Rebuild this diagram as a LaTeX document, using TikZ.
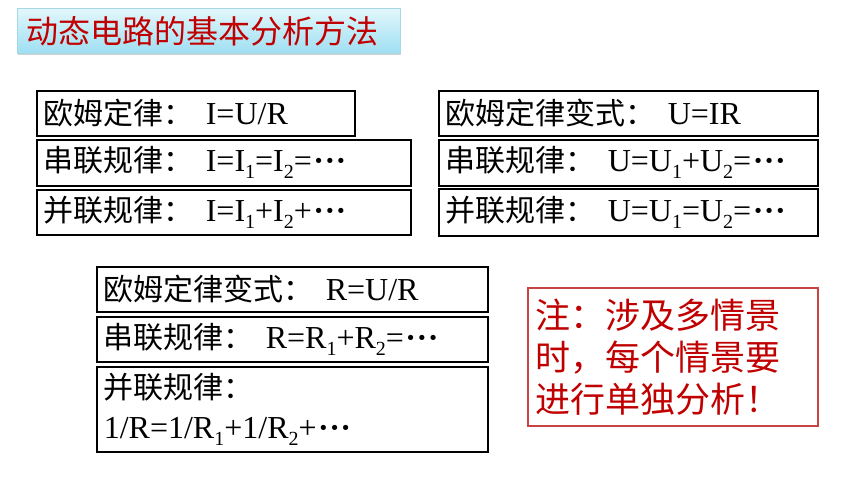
\documentclass[tikz,border=0pt]{standalone}
\usepackage{fontspec}
\setmainfont{Liberation Serif}
\newfontfamily\cjk{Noto Sans CJK SC}
\usetikzlibrary{shadows}
\definecolor{titlered}{HTML}{C00000}
\definecolor{notered}{HTML}{C00000}
\definecolor{noteframe}{HTML}{C84444}
\definecolor{cyantop}{HTML}{E2F7FC}
\definecolor{cyanbot}{HTML}{9EDFF2}
\definecolor{cyanframe}{HTML}{A8D8E4}
\newcommand\sbs[1]{\raisebox{-0.22em}{\fontsize{20}{20}\selectfont #1}}
\newcommand\dotsc{\kern1.5pt\textbf{·}\kern0.5pt\textbf{·}\kern0.5pt\textbf{·}}
\newcommand\cj[1]{{\cjk\fontsize{30}{40}\selectfont #1}\kern12pt}
\begin{document}
\begin{tikzpicture}[x=1pt,y=-1pt,
  lawbox/.style={draw=black, line width=1.6pt, anchor=north west,
    inner xsep=7pt, inner ysep=0pt, align=left,
    font=\fontsize{32}{40}\selectfont},
  notebox/.style={draw=noteframe, line width=1.5pt, anchor=north west,
    inner xsep=8pt, inner ysep=0pt, align=left, text=notered,
    font=\cjk\fontsize{35}{42}\selectfont},
  titlebox/.style={draw=cyanframe, line width=0.8pt, anchor=north west,
    top color=cyantop, bottom color=cyanbot,
    inner xsep=9pt, inner ysep=0pt, align=left, text=titlered,
    font=\cjk\fontsize{32}{40}\selectfont,
    drop shadow={opacity=0.35, shadow xshift=1pt, shadow yshift=-2pt}}]
\useasboundingbox (0,0) rectangle (860,484);

\node[titlebox, text width=365pt, minimum height=45pt] (title) at (17,8) {动态电路的基本分析方法};

% left column
\node[lawbox, text width=304pt, minimum height=45pt] (l1) at (36,90)
  {\cj{欧姆定律：}I=U/R};
\node[lawbox, text width=360pt, minimum height=46pt] (l2) at (36,139)
  {\cj{串联规律：}I=I\sbs{1}=I\sbs{2}=\dotsc};
\node[lawbox, text width=360pt, minimum height=45pt] (l3) at (36,189)
  {\cj{并联规律：}I=I\sbs{1}+I\sbs{2}+\dotsc};

% right column
\node[lawbox, text width=365pt, minimum height=45pt] (r1) at (438,90)
  {\cj{欧姆定律变式：}U=IR};
\node[lawbox, text width=365pt, minimum height=46pt] (r2) at (438,139)
  {\cj{串联规律：}U=U\sbs{1}+U\sbs{2}=\dotsc};
\node[lawbox, text width=365pt, minimum height=47pt] (r3) at (438,188)
  {\cj{并联规律：}U=U\sbs{1}=U\sbs{2}=\dotsc};

% bottom column
\node[lawbox, text width=377pt, minimum height=45pt] (b1) at (96,266)
  {\cj{欧姆定律变式：}R=U/R};
\node[lawbox, text width=377pt, minimum height=45pt] (b2) at (96,316)
  {\cj{串联规律：}R=R\sbs{1}+R\sbs{2}=\dotsc};
\node[lawbox, text width=377pt, minimum height=85pt] (b3) at (96,366)
  {{\cjk\fontsize{30}{40}\selectfont 并联规律：}\\1/R=1/R\sbs{1}+1/R\sbs{2}+\dotsc};

% note
\node[notebox, text width=274pt, minimum height=138pt] (note) at (527,287)
  {注：涉及多情景\\时，每个情景要\\进行单独分析！};
\end{tikzpicture}
\end{document}
